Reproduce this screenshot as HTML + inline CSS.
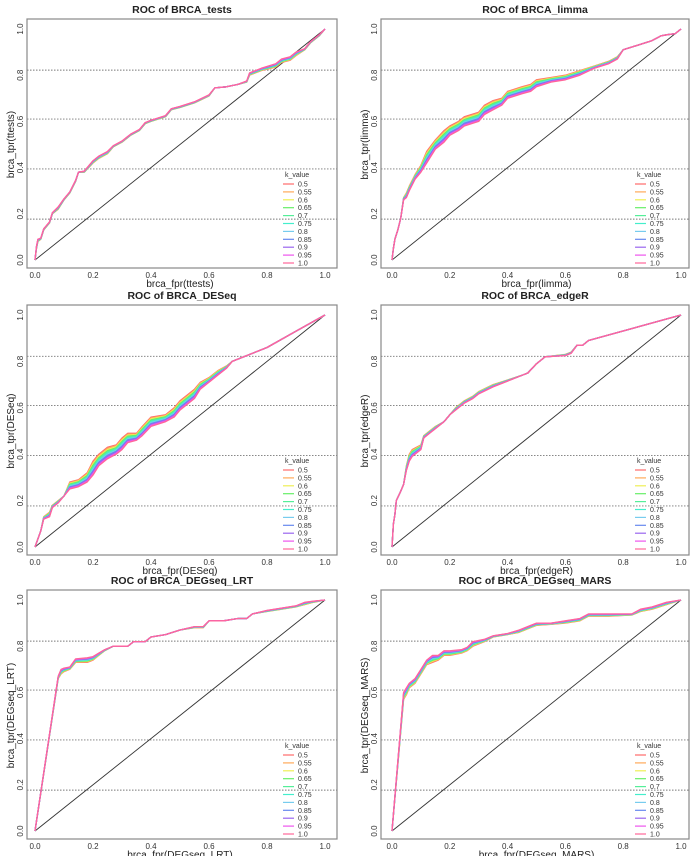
<!DOCTYPE html>
<html><head><meta charset="utf-8"><style>
html,body{margin:0;padding:0;background:#fff}
svg{display:block;font-family:"Liberation Sans",sans-serif}
</style></head><body>
<svg id="chart" width="700" height="856" viewBox="0 0 700 856"></svg>
<script>
const kLabels=["0.5","0.55","0.6","0.65","0.7","0.75","0.8","0.85","0.9","0.95","1.0"];
const kColors=["#ff6b6b","#ffaa5a","#eeee55","#66ee66","#55ee99","#44eecc","#77ccee","#6688ee","#9966ee","#ee55ee","#ff6699"];
const xTicks=[0,0.2,0.4,0.6,0.8,1.0];
const xTickLabels=["0.0","0.2","0.4","0.6","0.8","1.0"];
const yTicks=[0,0.2,0.4,0.6,0.8,1.0];
const yTickLabels=["0.0","0.2","0.4","0.6","0.8","1.0"];
const refLines=[0.822,0.61,0.394,0.177];
const panelTitles=["ROC of BRCA_tests","ROC of BRCA_limma","ROC of BRCA_DESeq","ROC of BRCA_edgeR","ROC of BRCA_DEGseq_LRT","ROC of BRCA_DEGseq_MARS"];
const xTitles=["brca_fpr(ttests)","brca_fpr(limma)","brca_fpr(DESeq)","brca_fpr(edgeR)","brca_fpr(DEGseq_LRT)","brca_fpr(DEGseq_MARS)"];
const yTitles=["brca_tpr(ttests)","brca_tpr(limma)","brca_tpr(DESeq)","brca_tpr(edgeR)","brca_tpr(DEGseq_LRT)","brca_tpr(DEGseq_MARS)"];

const fprTtests=[0,0.005,0.01,0.02,0.03,0.05,0.06,0.08,0.1,0.12,0.14,0.15,0.17,0.2,0.22,0.25,0.27,0.3,0.33,0.36,0.38,0.4,0.45,0.47,0.5,0.55,0.6,0.62,0.66,0.7,0.73,0.74,0.78,0.83,0.85,0.88,0.9,0.93,0.95,0.98,1.0];
const tprTtestsK05=[0,0.05,0.08,0.09,0.13,0.16,0.2,0.22,0.26,0.29,0.34,0.38,0.38,0.42,0.44,0.46,0.49,0.51,0.54,0.56,0.59,0.60,0.62,0.65,0.66,0.68,0.71,0.745,0.75,0.76,0.77,0.80,0.82,0.835,0.855,0.865,0.885,0.91,0.94,0.97,1.0];
const tprTtestsK10=[0,0.06,0.09,0.095,0.135,0.165,0.205,0.23,0.265,0.295,0.345,0.38,0.385,0.43,0.45,0.47,0.495,0.515,0.545,0.565,0.595,0.605,0.625,0.655,0.665,0.685,0.715,0.745,0.75,0.76,0.775,0.81,0.83,0.85,0.87,0.88,0.9,0.915,0.945,0.975,1.0];

const fprLimma=[0,0.005,0.01,0.02,0.03,0.04,0.05,0.06,0.08,0.1,0.12,0.15,0.18,0.2,0.23,0.25,0.3,0.32,0.35,0.38,0.4,0.45,0.48,0.5,0.55,0.6,0.65,0.7,0.75,0.78,0.8,0.85,0.9,0.93,0.95,0.98,1.0];
const tprLimmaK05=[0,0.05,0.09,0.13,0.18,0.27,0.29,0.32,0.37,0.41,0.47,0.52,0.56,0.58,0.60,0.62,0.64,0.67,0.69,0.70,0.73,0.75,0.76,0.78,0.79,0.80,0.82,0.84,0.86,0.88,0.91,0.93,0.95,0.97,0.975,0.98,1.0];
const tprLimmaK10=[0,0.05,0.09,0.13,0.18,0.26,0.27,0.30,0.35,0.38,0.42,0.48,0.51,0.54,0.56,0.58,0.60,0.63,0.65,0.67,0.70,0.72,0.73,0.75,0.77,0.78,0.80,0.83,0.85,0.87,0.91,0.93,0.95,0.97,0.975,0.98,1.0];

const fprDESeq=[0,0.02,0.03,0.05,0.06,0.08,0.1,0.12,0.15,0.18,0.2,0.22,0.25,0.28,0.3,0.32,0.35,0.37,0.4,0.45,0.48,0.5,0.55,0.57,0.6,0.63,0.66,0.68,0.8,0.9,1.0];
const tprDESeqK05=[0,0.07,0.13,0.15,0.18,0.2,0.22,0.28,0.29,0.32,0.37,0.40,0.43,0.44,0.47,0.49,0.49,0.52,0.56,0.57,0.60,0.63,0.68,0.71,0.73,0.76,0.78,0.80,0.86,0.93,1.0];
const tprDESeqK10=[0,0.07,0.12,0.13,0.17,0.19,0.22,0.25,0.26,0.28,0.31,0.35,0.38,0.40,0.42,0.45,0.46,0.48,0.52,0.54,0.56,0.59,0.64,0.68,0.71,0.74,0.77,0.80,0.86,0.93,1.0];

const fprEdgeR=[0,0.005,0.01,0.015,0.03,0.04,0.05,0.06,0.07,0.1,0.11,0.13,0.15,0.18,0.2,0.22,0.25,0.28,0.3,0.35,0.4,0.45,0.47,0.5,0.53,0.6,0.62,0.64,0.66,0.68,1.0];
const tprEdgeRK05=[0,0.1,0.14,0.2,0.24,0.27,0.35,0.40,0.42,0.44,0.48,0.50,0.52,0.54,0.57,0.60,0.63,0.65,0.67,0.70,0.72,0.74,0.75,0.79,0.82,0.83,0.84,0.87,0.87,0.89,1.0];
const tprEdgeRK10=[0,0.1,0.14,0.2,0.24,0.27,0.33,0.37,0.39,0.42,0.47,0.49,0.51,0.54,0.57,0.59,0.62,0.64,0.66,0.69,0.715,0.74,0.75,0.79,0.82,0.825,0.835,0.87,0.87,0.89,1.0];

const fprLRT=[0,0.08,0.09,0.1,0.12,0.14,0.18,0.2,0.22,0.24,0.27,0.32,0.34,0.38,0.4,0.45,0.5,0.55,0.58,0.6,0.65,0.7,0.73,0.75,0.8,0.85,0.9,0.93,0.96,1.0];
const tprLRTK05=[0,0.66,0.68,0.69,0.70,0.73,0.73,0.74,0.76,0.78,0.80,0.80,0.82,0.82,0.84,0.85,0.87,0.88,0.88,0.91,0.91,0.92,0.92,0.94,0.95,0.96,0.97,0.98,0.99,1.0];
const tprLRTK10=[0,0.67,0.70,0.705,0.71,0.745,0.75,0.755,0.77,0.785,0.80,0.80,0.82,0.82,0.84,0.85,0.87,0.885,0.885,0.91,0.91,0.92,0.92,0.94,0.955,0.965,0.975,0.99,0.995,1.0];

const fprMARS=[0,0.04,0.05,0.06,0.08,0.1,0.12,0.14,0.16,0.18,0.2,0.24,0.26,0.28,0.32,0.35,0.4,0.44,0.48,0.5,0.55,0.6,0.65,0.68,0.75,0.83,0.86,0.9,0.95,1.0];
const tprMARSK05=[0,0.57,0.59,0.62,0.64,0.68,0.72,0.73,0.74,0.76,0.76,0.77,0.78,0.80,0.82,0.84,0.85,0.86,0.88,0.89,0.895,0.90,0.91,0.93,0.93,0.935,0.95,0.96,0.98,1.0];
const tprMARSK10=[0,0.60,0.62,0.64,0.66,0.70,0.74,0.76,0.76,0.78,0.78,0.785,0.795,0.82,0.83,0.845,0.855,0.87,0.89,0.90,0.90,0.91,0.92,0.94,0.94,0.94,0.96,0.97,0.99,1.0];

const panelFpr=[fprTtests,fprLimma,fprDESeq,fprEdgeR,fprLRT,fprMARS];
const panelK05=[tprTtestsK05,tprLimmaK05,tprDESeqK05,tprEdgeRK05,tprLRTK05,tprMARSK05];
const panelK10=[tprTtestsK10,tprLimmaK10,tprDESeqK10,tprEdgeRK10,tprLRTK10,tprMARSK10];

const NS="http://www.w3.org/2000/svg";
const svg=document.getElementById('chart');
function mk(tag,attrs,parent,text){const e=document.createElementNS(NS,tag);for(const k in attrs)e.setAttribute(k,attrs[k]);if(text!==undefined)e.textContent=text;(parent||svg).appendChild(e);return e;}

const cols=[{l:27,r:337,x0:35,x1:325},{l:381,r:689,x0:392,x1:681}];
const rows=[{t:19,b:268},{t:305,b:555},{t:590,b:839}];

for(let p=0;p<6;p++){
  const c=cols[p%2], r=rows[Math.floor(p/2)];
  const y1=r.t+10, y0=r.b-8;
  const sx=v=>c.x0+v*(c.x1-c.x0);
  const sy=v=>y0-v*(y0-y1);
  const g=mk('g',{});
  
  
  const t=mk('text',{x:(c.l+c.r)/2,y:r.t-6,'text-anchor':'middle','font-size':'10.5','font-weight':'bold',fill:'#222'},g,panelTitles[p]);
  
  
  refLines.forEach(v=>{
    const l=mk('line',{x1:c.l,x2:c.r,y1:sy(v),y2:sy(v),stroke:'#777','stroke-width':'0.9','stroke-dasharray':'1.5,1.5'},g);
    
    
  });
  const d=mk('line',{x1:sx(0),y1:sy(0),x2:sx(1),y2:sy(1),stroke:'#333','stroke-width':'0.9'},g);
  
  
  const fpr=panelFpr[p],a=panelK05[p],b=panelK10[p];
  for(let k=0;k<11;k++){
    const w=k/10;
    const pts=fpr.map((f,i)=>sx(f).toFixed(1)+','+sy(a[i]+(b[i]-a[i])*w).toFixed(1)).join(' ');
    const pl=mk('polyline',{points:pts,fill:'none',stroke:kColors[k],'stroke-width':'1.3','stroke-linejoin':'round'},g);
    
    
  }
  const box=mk('rect',{x:c.l,y:r.t,width:c.r-c.l,height:r.b-r.t,fill:'none',stroke:'#888','stroke-width':'1.2'},g);
  
  
  xTicks.forEach((v,i)=>{
    const tx=mk('text',{x:sx(v),y:r.b+10,'text-anchor':'middle','font-size':'8',fill:'#333'},g,xTickLabels[i]);
    
    
  });
  yTicks.forEach((v,i)=>{
    const X=c.l-4,Y=sy(v);
    const ty=mk('text',{x:X,y:Y,'text-anchor':'middle','font-size':'8',fill:'#333',transform:`rotate(-90 ${X} ${Y})`},g,yTickLabels[i]);
    
    
  });
  const xt=mk('text',{x:(c.x0+c.x1)/2,y:r.b+19,'text-anchor':'middle','font-size':'10',fill:'#222'},g,xTitles[p]);
  
  
  const YX=c.l-13,YY=(y0+y1)/2;
  const yt=mk('text',{x:YX,y:YY,'text-anchor':'middle','font-size':'10',fill:'#222',transform:`rotate(-90 ${YX} ${YY})`},g,yTitles[p]);
  
  
  const lg=mk('g',{},g);
  
  
  const lt=mk('text',{x:c.r-52,y:r.t+158,'font-size':'7',fill:'#333'},lg,'k_value');
  
  
  kLabels.forEach((lab,k)=>{
    const Y=r.t+165+k*7.9;
    const ll=mk('line',{x1:c.r-54,x2:c.r-43,y1:Y,y2:Y,stroke:kColors[k],'stroke-width':'1.2'},lg);
    
    
    const tx=mk('text',{x:c.r-39,y:Y+2.5,'font-size':'7',fill:'#333'},lg,lab);
    
    
  });
}
</script>
</body></html>
